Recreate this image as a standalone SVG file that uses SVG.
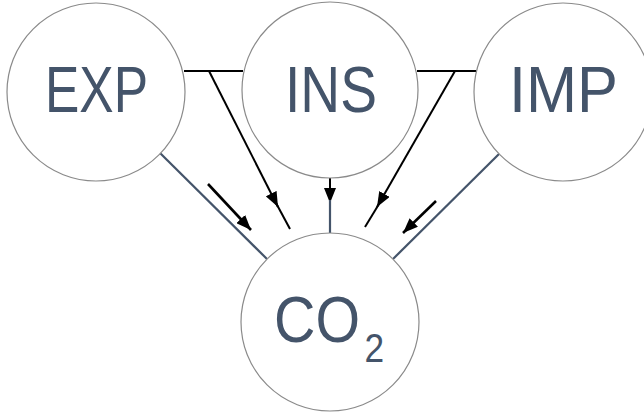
<svg xmlns="http://www.w3.org/2000/svg" width="644" height="413" viewBox="0 0 644 413">
<defs>
<marker id="ah" markerWidth="15" markerHeight="12" refX="15" refY="6" orient="auto" markerUnits="userSpaceOnUse">
<path d="M0,0 L15,6 L0,12 Z" fill="#000"/>
</marker>
</defs>
<style>
.node circle{fill:#fff;stroke:#8a8a8a;stroke-width:1.2}
.lbl{font-family:"Liberation Sans",Arial,sans-serif;fill:#44546A;font-size:65px}
.blk{stroke:#000;stroke-width:2;fill:none}
.sl{stroke:#44546A;stroke-width:2.2;fill:none}
.arr{stroke:#000;stroke-width:2.6;fill:none;marker-end:url(#ah)}
</style>
<g id="connectors">
<line class="blk" x1="184" y1="71" x2="243" y2="71"/>
<line class="blk" x1="417" y1="71" x2="476" y2="71"/>
<line class="blk" x1="209" y1="71" x2="278" y2="207" style="marker-end:url(#ah)"/>
<line class="blk" x1="276" y1="203" x2="290" y2="229"/>
<line class="blk" x1="455" y1="71" x2="377" y2="207" style="marker-end:url(#ah)"/>
<line class="blk" x1="379" y1="204" x2="365" y2="227"/>
<line class="blk" x1="330" y1="177" x2="330" y2="203" style="marker-end:url(#ah)"/>
<line class="sl" x1="330" y1="200" x2="330" y2="234"/>
<line class="sl" x1="160" y1="153" x2="267" y2="259"/>
<line class="sl" x1="499" y1="154" x2="393" y2="259"/>
<line class="arr" x1="208" y1="184" x2="251" y2="230"/>
<line class="arr" x1="436" y1="201" x2="403" y2="233"/>
</g>
<g id="node-exp" class="node">
<circle cx="96" cy="92" r="89"/>
<text class="lbl" x="45" y="112" textLength="103" lengthAdjust="spacingAndGlyphs">EXP</text>
</g>
<g id="node-ins" class="node">
<circle cx="330" cy="90" r="88"/>
<text class="lbl" x="285" y="112" textLength="92" lengthAdjust="spacingAndGlyphs">INS</text>
</g>
<g id="node-imp" class="node">
<circle cx="563" cy="92" r="89"/>
<text class="lbl" x="509" y="112" textLength="109" lengthAdjust="spacingAndGlyphs">IMP</text>
</g>
<g id="node-co2" class="node">
<circle cx="330" cy="322" r="89"/>
<text class="lbl" x="274" y="342" textLength="110" lengthAdjust="spacingAndGlyphs">CO<tspan dx="5" dy="20" style="font-size:40px">2</tspan></text>
</g>
</svg>
